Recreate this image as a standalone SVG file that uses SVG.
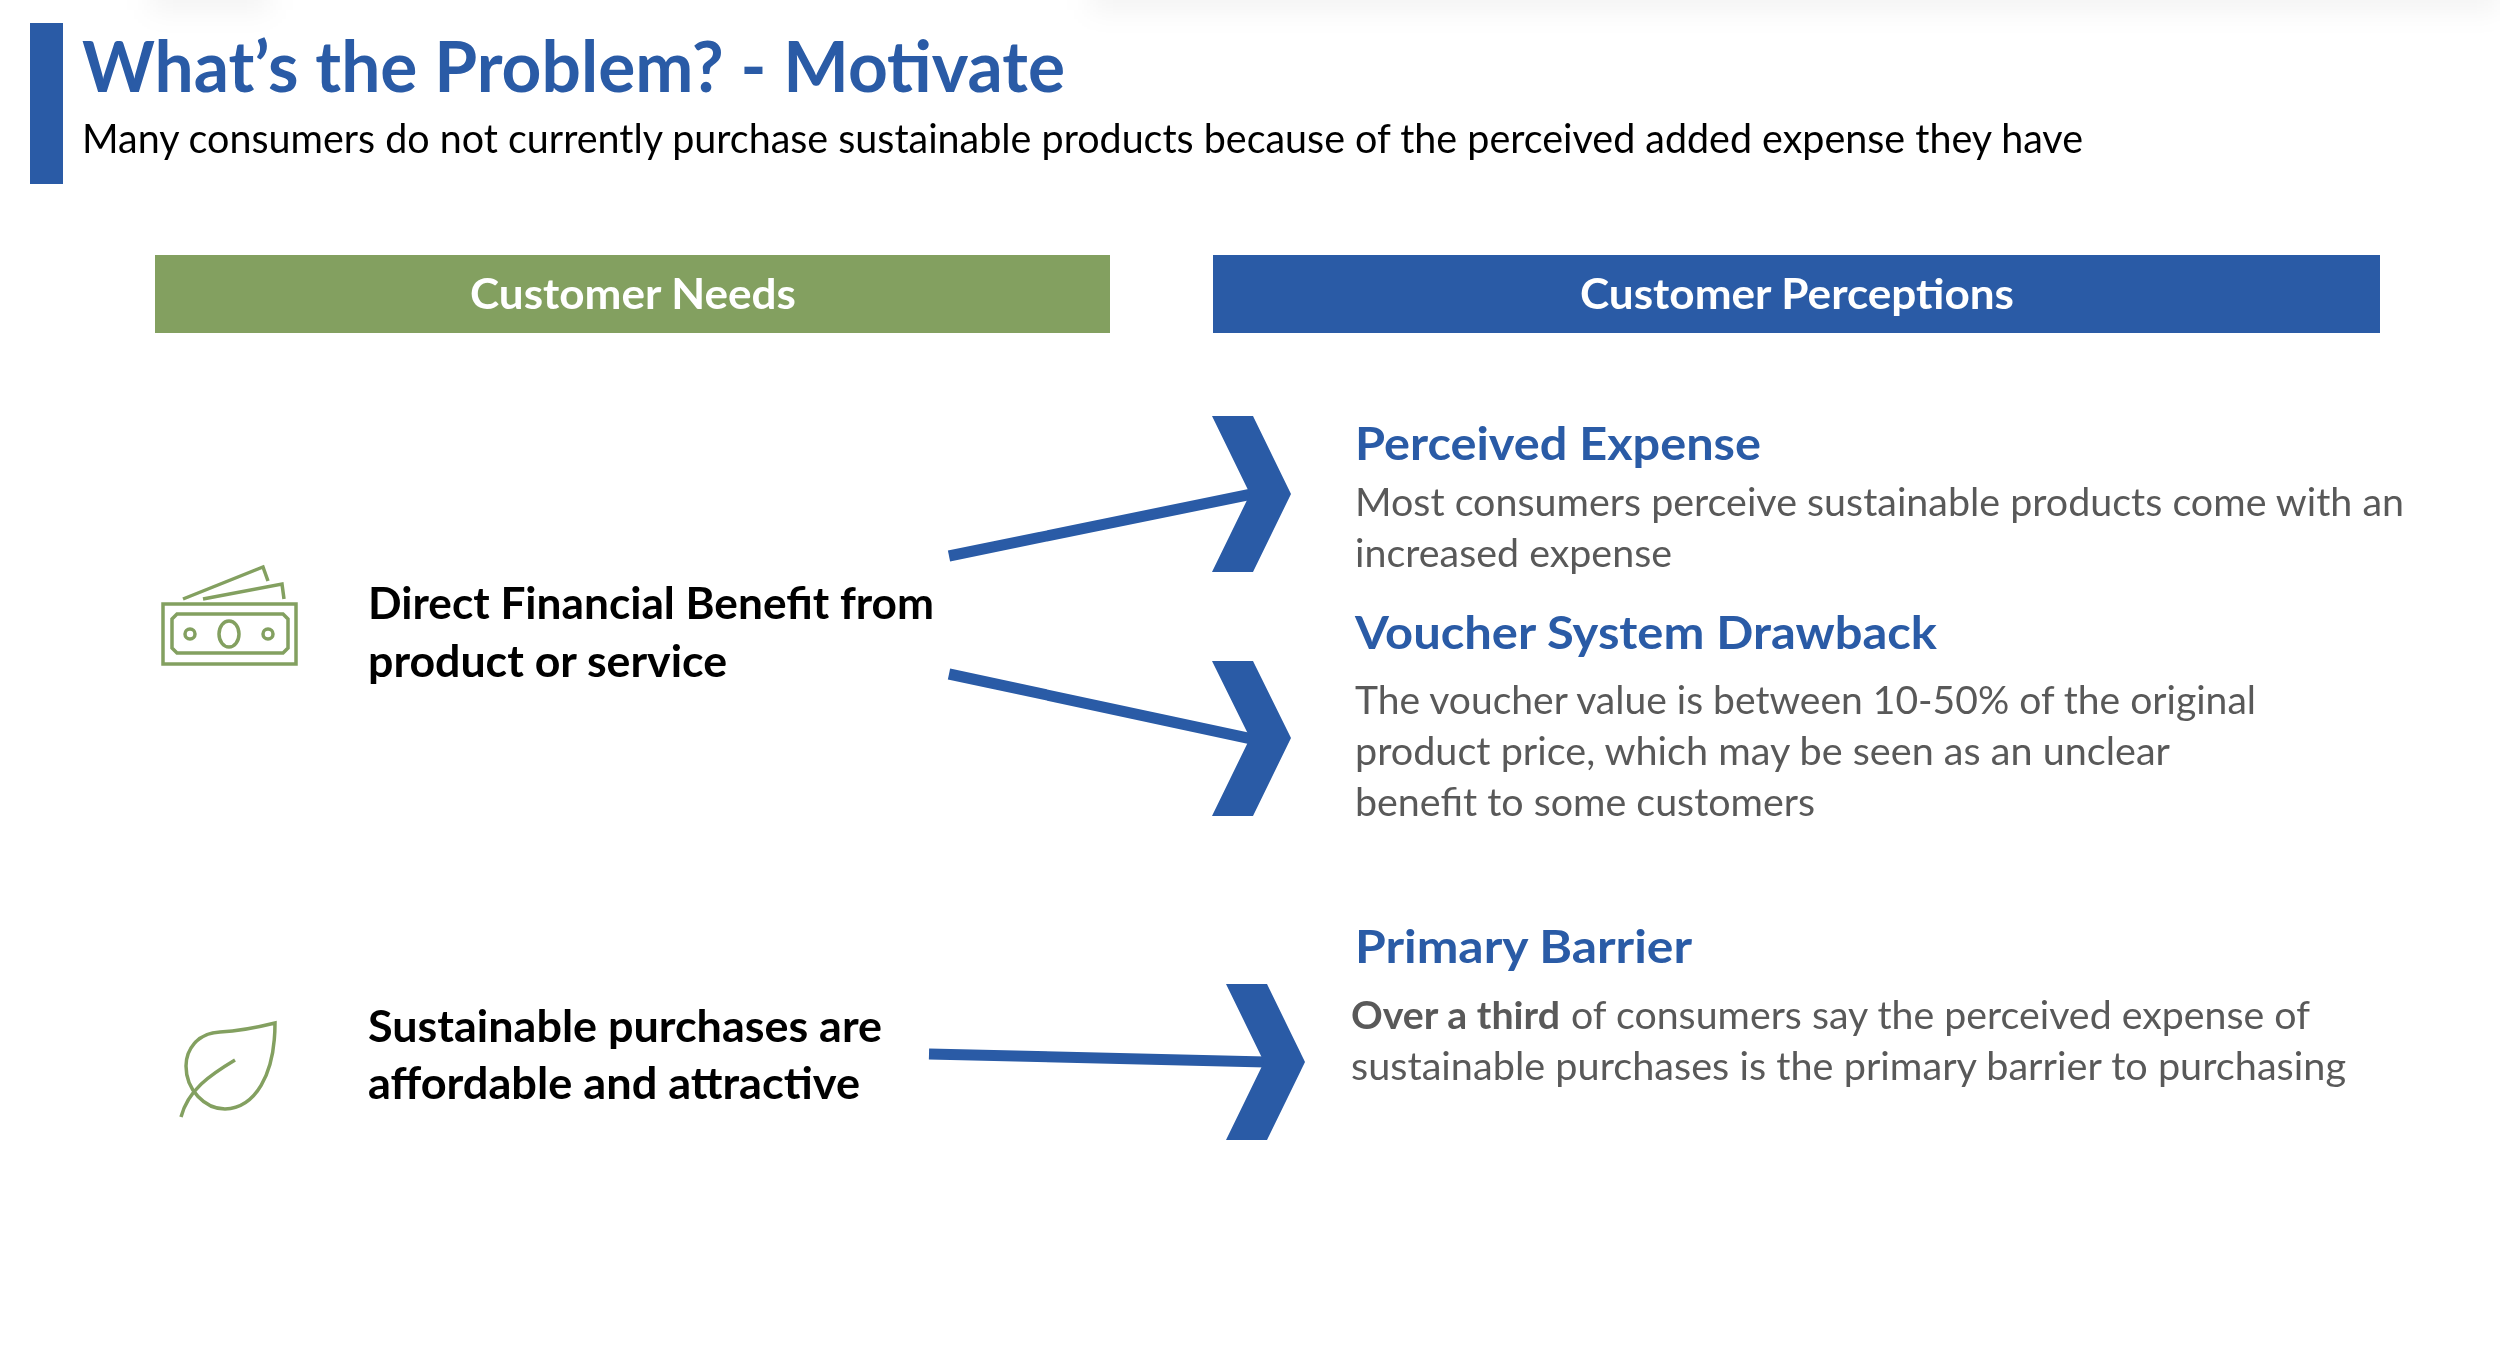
<svg xmlns="http://www.w3.org/2000/svg" width="2500" height="1352" viewBox="0 0 2500 1352">
<style>
text{font-family:"Lato","Open Sans","Liberation Sans",sans-serif;}
.h{font-weight:700;font-size:46px;fill:#2a5ba6}
.b{font-size:38px;fill:#595959}
.k{font-weight:700;font-size:43px;fill:#000}
.w{font-weight:700;font-size:42px;fill:#fff}
.ic{fill:none;stroke:#83a060;stroke-width:3.5}
.lk{fill:none;stroke:#2a5ba6;stroke-width:11}
.ch{fill:#2a5ba6}
.sh{fill:#000;opacity:.05}
</style>
<defs>
<filter id="blur" x="-20%" y="-100%" width="140%" height="300%"><feGaussianBlur stdDeviation="14"/></filter>
</defs>
<rect width="2500" height="1352" fill="#fff"/>
<g filter="url(#blur)">
<rect class="sh" x="1090" y="-20" width="1410" height="30"/>
<rect class="sh" x="150" y="-20" width="120" height="30"/>
</g>
<g id="header">
<rect x="30" y="23" width="33" height="161" fill="#2a5ba6"/>
<text x="82" y="92" font-size="70" font-weight="700" fill="#2a5ba6" textLength="983" lengthAdjust="spacingAndGlyphs">What’s the Problem? - Motivate</text>
<text x="82" y="153" font-size="40" fill="#000" textLength="2001" lengthAdjust="spacingAndGlyphs">Many consumers do not currently purchase sustainable products because of the perceived added expense they have</text>
</g>
<g id="needs-header">
<rect x="155" y="255" width="955" height="78" fill="#83a060"/>
<text class="w" x="470" y="309" textLength="326" lengthAdjust="spacingAndGlyphs">Customer Needs</text>
</g>
<g id="perceptions-header">
<rect x="1213" y="255" width="1167" height="78" fill="#2a5ba6"/>
<text class="w" x="1580" y="309" textLength="434" lengthAdjust="spacingAndGlyphs">Customer Perceptions</text>
</g>
<g id="need-financial">
<g id="money-icon">
<rect class="ic" x="163" y="604" width="133" height="60"/>
<path class="ic" d="M177 614H283L288 619V648L283 653H177L172 648V619Z"/>
<ellipse class="ic" cx="229" cy="634" rx="10" ry="13"/>
<circle class="ic" cx="190" cy="634" r="5"/>
<circle class="ic" cx="268" cy="634" r="5"/>
<path class="ic" d="M183 599L263 567L268 581M203 599L282 584L284 599"/>
</g>
<text class="k" x="368" y="619" textLength="566" lengthAdjust="spacingAndGlyphs">Direct Financial Benefit from</text>
<text class="k" x="368" y="677" textLength="359" lengthAdjust="spacingAndGlyphs">product or service</text>
</g>
<g id="need-sustainable">
<g id="leaf-icon">
<path class="ic" d="M275 1023C255 1028 240 1031 220 1032C197 1033 186 1050 186 1066C186 1090 205 1109 225 1109C255 1108 275 1075 275 1023Z"/>
<path class="ic" d="M235 1060C210 1075 188 1090 181 1117"/>
</g>
<text class="k" x="368" y="1042" textLength="514" lengthAdjust="spacingAndGlyphs">Sustainable purchases are</text>
<text class="k" x="368" y="1099" textLength="492" lengthAdjust="spacingAndGlyphs">affordable and attractive</text>
</g>
<g id="connectors">
<path class="lk" d="M949 556L1252 494"/>
<path class="lk" d="M949 674L1252 739"/>
<path class="lk" d="M929 1054L1266 1062"/>
<path class="ch" d="M1212 416H1253L1291 494L1253 572H1212L1250 494Z"/>
<path class="ch" d="M1212 661H1253L1291 738L1253 816H1212L1250 738Z"/>
<path class="ch" d="M1226 984H1267L1305 1062L1267 1140H1226L1264 1062Z"/>
</g>
<g id="perceived-expense">
<text class="h" x="1355" y="460" textLength="406" lengthAdjust="spacingAndGlyphs">Perceived Expense</text>
<text class="b" x="1355" y="516" textLength="1049" lengthAdjust="spacingAndGlyphs">Most consumers perceive sustainable products come with an</text>
<text class="b" x="1355" y="567" textLength="317" lengthAdjust="spacingAndGlyphs">increased expense</text>
</g>
<g id="voucher-drawback">
<text class="h" x="1355" y="649" textLength="582" lengthAdjust="spacingAndGlyphs">Voucher System Drawback</text>
<text class="b" x="1355" y="714" textLength="901" lengthAdjust="spacingAndGlyphs">The voucher value is between 10-50% of the original</text>
<text class="b" x="1355" y="765" textLength="815" lengthAdjust="spacingAndGlyphs">product price, which may be seen as an unclear</text>
<text class="b" x="1355" y="816" textLength="460" lengthAdjust="spacingAndGlyphs">benefit to some customers</text>
</g>
<g id="primary-barrier">
<text class="h" x="1355" y="963" textLength="337" lengthAdjust="spacingAndGlyphs">Primary Barrier</text>
<text class="b" y="1029"><tspan x="1351" font-weight="700" textLength="209" lengthAdjust="spacingAndGlyphs">Over a third</tspan><tspan x="1571" textLength="739" lengthAdjust="spacingAndGlyphs">of consumers say the perceived expense of</tspan></text>
<text class="b" x="1351" y="1080" textLength="995" lengthAdjust="spacingAndGlyphs">sustainable purchases is the primary barrier to purchasing</text>
</g>
</svg>
